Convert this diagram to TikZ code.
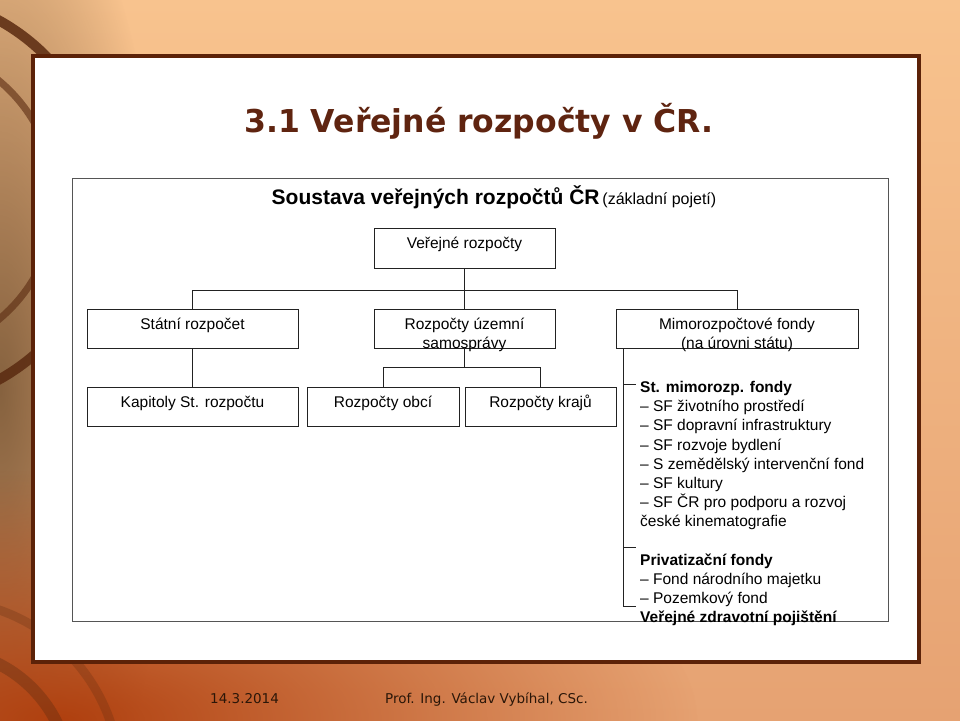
\documentclass[tikz,border=0pt]{standalone}
\usepackage{fontspec}
\setmainfont{Liberation Sans}
\newfontfamily\titlefont{DejaVu Sans}
\usetikzlibrary{positioning, fadings}

\definecolor{bgtop}{HTML}{F8C38E}
\definecolor{bgbottom}{HTML}{E6A272}
\definecolor{bgtan}{HTML}{86623F}
\definecolor{bgrust}{HTML}{B0400F}
\definecolor{bgarc}{HTML}{5A2A10}
\definecolor{panelborder}{HTML}{5C2208}
\definecolor{titlebrown}{HTML}{5F2410}
\definecolor{boxline}{HTML}{222222}
\definecolor{frameline}{HTML}{555555}
\definecolor{footertext}{HTML}{2A1608}

\tikzfading[name=soft_blob, inner color=transparent!0, outer color=transparent!100]

\tikzset{
    budget_box/.style={rectangle, draw=boxline, line width=1pt, minimum height=39pt, inner sep=0pt,
        outer sep=0pt, text height=11pt, text depth=10pt, text centered,
        font=\fontsize{15.5}{19}\selectfont},
    tree_line/.style={draw=boxline, line width=1pt},
    fund_list/.style={anchor=base west, inner sep=0pt, font=\fontsize{15.5}{19.17}\selectfont},
    slide_title/.style={anchor=base, inner sep=0pt, text=titlebrown, font=\titlefont\bfseries\fontsize{31.5}{36}\selectfont},
    chart_heading/.style={anchor=base, inner sep=0pt},
    footer_text/.style={anchor=base west, inner sep=0pt, text=footertext, font=\titlefont\fontsize{13.5}{16}\selectfont},
}
\newcommand{\twolines}[2]{\begin{tabular}[t]{@{}c@{}}#1\\#2\end{tabular}}

\begin{document}
\begin{tikzpicture}[x=1pt, y=-1pt]
    \useasboundingbox (0,0) rectangle (960,720);
    %%%%%%%%%%%%%%
    % BACKGROUND %
    %%%%%%%%%%%%%%
    \shade [top color=bgtop, bottom color=bgbottom] (0,0) rectangle (960,720);
    \fill [bgtan, path fading=soft_blob] (0,390) ellipse (170 and 560);
    \fill [bgrust, path fading=soft_blob] (60,720) ellipse (640 and 250);
    \begin{scope}
        \clip (0,0) rectangle (960,720);
        \draw [bgarc, line width=10pt, opacity=.85] (-100,200) circle (205);
        \draw [bgarc, line width=7pt, opacity=.6] (-100,200) circle (155);
        \draw [bgarc, line width=12pt, opacity=.35] (-60,780) circle (130);
        \draw [bgarc, line width=9pt, opacity=.25] (-60,780) circle (180);
    \end{scope}

    %%%%%%%%%%%%%%%%%%
    % PANEL AND TEXT %
    %%%%%%%%%%%%%%%%%%
    \draw [panelborder, line width=4pt, fill=white] (33,56) rectangle (919,662);
    \node (slide_title) [slide_title] at (479,132) {3.1 Veřejné rozpočty v ČR.};
    \draw [frameline, line width=1pt] (72,178) rectangle (888,621);
    \node (chart_heading) [chart_heading] at (494,204)
            {{\bfseries\fontsize{21}{24}\selectfont Soustava veřejných rozpočtů ČR}
             {\fontsize{16}{19}\selectfont (základní pojetí)}};

    %%%%%%%%%
    % BOXES %
    %%%%%%%%%
    \node (verejne) [budget_box, minimum width=181pt, minimum height=40pt] at (464.5,248)
            {Veřejné rozpočty};
    \node (statni) [budget_box, minimum width=211pt] at (192.5,328.5)
            {Státní rozpočet};
    \node (uzemni) [budget_box, minimum width=181pt, right=76pt of statni]
            {\twolines{Rozpočty územní}{samosprávy}};
    \node (mimo) [budget_box, minimum width=242pt, right=61pt of uzemni]
            {\twolines{Mimorozpočtové fondy}{(na úrovni státu)}};
    \node (kapitoly) [budget_box, minimum width=211pt, below=39pt of statni]
            {Kapitoly St. rozpočtu};
    \node (obci) [budget_box, minimum width=152pt, right=9pt of kapitoly]
            {Rozpočty obcí};
    \node (kraje) [budget_box, minimum width=151pt, right=6pt of obci]
            {Rozpočty krajů};

    \draw [tree_line] (verejne.south) -- (uzemni.north);
    \draw [tree_line] (verejne.south) ++(0,22) -| (statni.north);
    \draw [tree_line] (verejne.south) ++(0,22) -| (mimo.north);
    \draw [tree_line] (statni) -- (kapitoly);
    \draw [tree_line] (uzemni.south) ++(0,19) -| (obci.north);
    \draw [tree_line] (uzemni.south) ++(0,19) -| (kraje.north);
    \draw [tree_line] (uzemni.south) -- ++(0,19);

    %%%%%%%%%%%%%%
    % FUNDS LIST %
    %%%%%%%%%%%%%%
    \coordinate (fund_top) at ([xshift=7pt]mimo.south west);
    \coordinate (fund_tick_a) at (636,384);
    \coordinate (fund_tick_b) at (636,547);
    \coordinate (fund_end) at (636,606);
    \draw [tree_line] (fund_top) |- (fund_end);
    \draw [tree_line] (fund_top |- fund_tick_a) -- (fund_tick_a);
    \draw [tree_line] (fund_top |- fund_tick_b) -- (fund_tick_b);
    \node (funds) [fund_list] at (640,392.5) {\begin{tabular}[t]{@{}l@{}}
            \textbf{St. mimorozp. fondy}\\
            – SF životního prostředí\\
            – SF dopravní infrastruktury\\
            – SF rozvoje bydlení\\
            – S zemědělský intervenční fond\\
            – SF kultury\\
            – SF ČR pro podporu a rozvoj\\
            české kinematografie\\
            \\
            \textbf{Privatizační fondy}\\
            – Fond národního majetku\\
            – Pozemkový fond\\
            \textbf{Veřejné zdravotní pojištění}
        \end{tabular}};

    %%%%%%%%%%
    % FOOTER %
    %%%%%%%%%%
    \node (footer_date) [footer_text] at (210,703) {14.3.2014};
    \node (footer_author) [footer_text] at (385,703) {Prof. Ing. Václav Vybíhal, CSc.};
\end{tikzpicture}
\end{document}
